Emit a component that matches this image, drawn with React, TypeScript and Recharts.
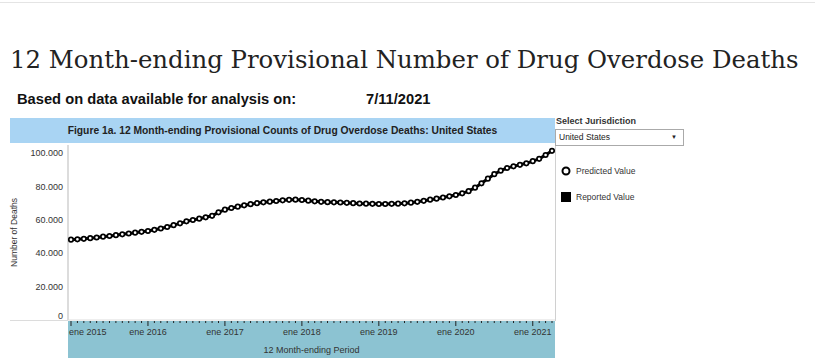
import { LineChart, Line, XAxis, YAxis } from 'recharts';

const SANS = 'Arial, "Liberation Sans", sans-serif';

// 12 month-ending periods, Jan 2015 .. Apr 2021
const years = [2015, 2016, 2017, 2018, 2019, 2020, 2021];
const monthAbbr = ['ene', 'feb', 'mar', 'abr', 'may', 'jun', 'jul', 'ago', 'sep', 'oct', 'nov', 'dic'];
const periods = years.flatMap((y) => monthAbbr.map((m) => `${m} ${y}`)).slice(0, 76);

// predicted provisional counts
const predicted = [
  48200, 48400, 48700, 49100, 49500, 50000, 50400, 50900, 51400, 51900, 52400, 52900,
  53400, 54100, 54900, 55800, 56900, 58000, 59200, 60000, 60800, 61600, 62500, 64600,
  66200, 67200, 68000, 68800, 69500, 70100, 70600, 71000, 71400, 71800, 72100, 72200,
  72000, 71600, 71200, 70900, 70700, 70600, 70500, 70300, 70100, 69900, 69800, 69700,
  69600, 69600, 69700, 69800, 70000, 70400, 70900, 71500, 72200, 72800, 73500, 74200,
  75000, 76000, 77300, 79400, 82000, 84800, 87500, 89600, 91200, 92200, 93100, 94000,
  95300, 96700, 99000, 101500,
];

const yTicks = [0, 20000, 40000, 60000, 80000, 100000];

const data = periods.map((p, i) => ({ period: p, predicted: predicted[i] }));

function fmt(v: number): string {
  return String(v).replace(/\B(?=(\d{3})+(?!\d))/g, '.');
}

function MonthTick(props: any) {
  const { x, y, payload, index } = props;
  const major = String(payload.value).startsWith('ene');
  return (
    <g>
      <line x1={x} x2={x} y1={y + 1} y2={y + (major ? 6 : 3)} stroke="#222" strokeWidth={1} />
      {major && (
        <text
          x={index === 0 ? x - 2 : x}
          y={y + 15}
          textAnchor={index === 0 ? 'start' : 'middle'}
          fontSize={9}
          fill="#333"
          fontFamily={SANS}
        >
          {payload.value}
        </text>
      )}
    </g>
  );
}

function CountTick(props: any) {
  const { x, y, payload } = props;
  return (
    <text x={x} y={y + (payload.value === 0 ? -1 : 3)} textAnchor="end" fontSize={9} fill="#333" fontFamily={SANS}>
      {fmt(payload.value)}
    </text>
  );
}

export default function App() {
  return (
    <div
      style={{
        position: 'absolute', left: 0, top: 0, width: 815, height: 358,
        background: '#fff', overflow: 'hidden', fontFamily: SANS, color: '#111',
      }}
    >
      <div style={{ position: 'absolute', left: 0, top: 2, width: 815, height: 1, background: '#e4e4e4' }} />
      <div
        style={{
          position: 'absolute', left: 10, top: 45, fontFamily: '"DejaVu Serif", serif', fontSize: 24.4,
          color: '#222', whiteSpace: 'nowrap', lineHeight: '30px',
        }}
      >
        12 Month-ending Provisional Number of Drug Overdose Deaths
      </div>
      <div style={{ position: 'absolute', left: 17, top: 91, fontSize: 14.7, fontWeight: 'bold', whiteSpace: 'nowrap' }}>
        Based on data available for analysis on:
      </div>
      <div style={{ position: 'absolute', left: 366, top: 91, fontSize: 14.7, fontWeight: 'bold' }}>7/11/2021</div>

      <div
        style={{
          position: 'absolute', left: 10, top: 118, width: 545, height: 25, background: '#a9d4f3',
          textAlign: 'center', lineHeight: '25px', fontSize: 10.3, fontWeight: 'bold', color: '#222', whiteSpace: 'nowrap',
        }}
      >
        Figure 1a. 12 Month-ending Provisional Counts of Drug Overdose Deaths: United States
      </div>

      <div style={{ position: 'absolute', left: 68, top: 321, width: 487, height: 37, background: '#8cc3d2' }} />
      <div style={{ position: 'absolute', left: 10, top: 320, width: 58, height: 1, background: '#dcdcdc' }} />
      <div style={{ position: 'absolute', left: 555, top: 143, width: 1, height: 178, background: '#d0d0d0' }} />

      <div style={{ position: 'absolute', left: 0, top: 140 }}>
        <LineChart width={560} height={218} data={data} margin={{ top: 5, right: 5, bottom: 0, left: 10 }}>
          <XAxis
            dataKey="period"
            interval={0}
            padding={{ left: 3, right: 3 }}
            height={38}
            tickSize={0}
            tickMargin={0}
            tick={<MonthTick />}
            axisLine={{ stroke: '#dcdcdc' }}
            label={{ value: '12 Month-ending Period', position: 'insideBottom', offset: 5, fontSize: 9, fill: '#333', fontFamily: SANS }}
          />
          <YAxis
            width={58}
            domain={[0, 105000]}
            ticks={yTicks}
            tickLine={false}
            tickSize={0}
            tickMargin={5}
            tick={<CountTick />}
            axisLine={{ stroke: '#dcdcdc', strokeWidth: 2 }}
            label={{ value: 'Number of Deaths', angle: -90, position: 'insideLeft', offset: 4, fontSize: 8.5, fill: '#333', fontFamily: SANS, style: { textAnchor: 'middle' } }}
          />
          <Line
            dataKey="predicted"
            type="linear"
            stroke="#000"
            strokeWidth={3}
            dot={{ r: 2.2, stroke: '#000', strokeWidth: 1.7, fill: '#fff' }}
            activeDot={false}
            isAnimationActive={false}
          />
        </LineChart>
      </div>

      <div style={{ position: 'absolute', left: 556, top: 116, fontSize: 9, fontWeight: 'bold', color: '#333' }}>Select Jurisdiction</div>
      <div
        style={{
          position: 'absolute', left: 555, top: 129, width: 124, height: 15, border: '1px solid #aaa',
          fontSize: 8.5, lineHeight: '15px', color: '#222', paddingLeft: 3, boxSizing: 'content-box',
        }}
      >
        United States
        <span style={{ position: 'absolute', right: 6, top: 0, fontSize: 6 }}>▼</span>
      </div>

      <svg style={{ position: 'absolute', left: 560, top: 165 }} width={14} height={40}>
        <circle cx={6} cy={6} r={3.5} stroke="#000" strokeWidth={2} fill="#fff" />
        <rect x={1} y={27} width={10} height={10} fill="#000" />
      </svg>
      <div style={{ position: 'absolute', left: 576, top: 166, fontSize: 8.5, color: '#333' }}>Predicted Value</div>
      <div style={{ position: 'absolute', left: 576, top: 192, fontSize: 8.5, color: '#333' }}>Reported Value</div>
    </div>
  );
}
